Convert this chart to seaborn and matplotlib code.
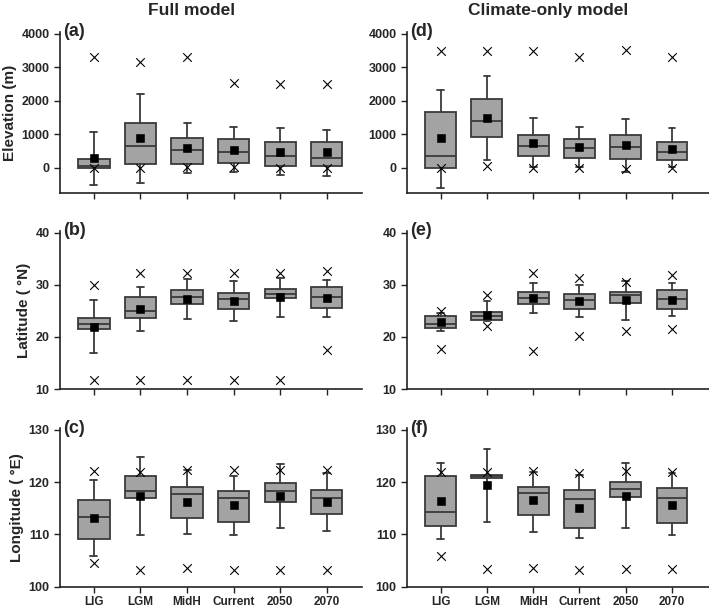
import numpy as np
import matplotlib
matplotlib.use("Agg")
import matplotlib.pyplot as plt
import seaborn as sns

# categories (x axis)
periods = ["LIG", "LGM", "MidH", "Current", "2050", "2070"]

# box statistics: whisker low, q1, median, q3, whisker high, mean, min (x), max (x)
elev_full = {
    "wlo": [-500, -460, -150, -120, -220, -240],
    "q1": [10, 110, 130, 150, 50, 50],
    "med": [50, 650, 530, 460, 350, 310],
    "q3": [260, 1330, 880, 850, 770, 760],
    "whi": [1080, 2200, 1330, 1220, 1180, 1140],
    "mean": [300, 880, 580, 540, 480, 460],
    "min": [0, 0, 30, 30, 0, 0],
    "max": [3320, 3150, 3320, 2540, 2500, 2500],
}
elev_clim = {
    "wlo": [-590, 230, 30, 30, -120, 30],
    "q1": [10, 910, 360, 310, 280, 250],
    "med": [360, 1410, 660, 590, 610, 480],
    "q3": [1670, 2070, 980, 870, 980, 780],
    "whi": [2320, 2740, 1500, 1230, 1460, 1180],
    "mean": [880, 1500, 730, 630, 670, 560],
    "min": [0, 70, 0, 0, -20, 0],
    "max": [3500, 3500, 3500, 3320, 3520, 3320],
}
lat_full = {
    "wlo": [16.9, 21.1, 23.5, 23.0, 23.9, 23.9],
    "q1": [21.5, 23.7, 26.3, 25.4, 27.4, 25.6],
    "med": [22.5, 25.0, 27.6, 27.3, 28.2, 27.6],
    "q3": [23.6, 27.7, 28.9, 28.4, 29.1, 29.5],
    "whi": [27.0, 29.6, 31.1, 30.8, 31.2, 31.0],
    "mean": [21.9, 25.3, 27.3, 26.9, 27.7, 27.4],
    "min": [11.7, 11.7, 11.7, 11.7, 11.8, 17.6],
    "max": [30.0, 32.2, 32.2, 32.2, 32.2, 32.6],
}
lat_clim = {
    "wlo": [21.1, 23.0, 24.6, 23.9, 23.3, 24.0],
    "q1": [21.8, 23.2, 26.3, 25.3, 26.5, 25.3],
    "med": [22.5, 24.0, 27.4, 27.0, 28.0, 27.2],
    "q3": [24.1, 24.7, 28.6, 28.3, 28.6, 28.9],
    "whi": [24.5, 26.8, 30.3, 30.0, 30.7, 30.3],
    "mean": [22.9, 24.3, 27.4, 26.9, 27.0, 27.1],
    "min": [17.7, 22.1, 17.3, 20.1, 21.1, 21.6],
    "max": [25.0, 28.0, 32.2, 31.2, 30.6, 31.8],
}
lon_full = {
    "wlo": [105.9, 109.8, 110.1, 109.8, 111.2, 110.7],
    "q1": [109.1, 116.9, 113.2, 112.4, 116.2, 113.9],
    "med": [113.3, 118.3, 117.7, 117.0, 118.3, 117.0],
    "q3": [116.6, 121.1, 119.0, 118.3, 119.9, 118.5],
    "whi": [120.4, 124.8, 122.4, 121.1, 123.4, 121.7],
    "mean": [113.1, 117.4, 116.2, 115.6, 117.3, 116.1],
    "min": [104.6, 103.2, 103.5, 103.2, 103.2, 103.2],
    "max": [122.2, 121.9, 122.3, 122.3, 122.3, 122.3],
}
lon_clim = {
    "wlo": [109.2, 112.4, 110.4, 109.3, 111.2, 109.8],
    "q1": [111.6, 120.8, 113.7, 111.3, 117.2, 112.1],
    "med": [114.3, 121.1, 118.0, 116.8, 118.6, 117.0],
    "q3": [121.1, 121.4, 119.1, 118.4, 120.1, 118.9],
    "whi": [123.7, 126.3, 122.0, 121.3, 123.7, 121.8],
    "mean": [116.4, 119.4, 116.5, 115.0, 117.4, 115.7],
    "min": [105.9, 103.4, 103.6, 103.2, 103.3, 103.3],
    "max": [122.0, 122.0, 122.2, 121.7, 122.2, 122.0],
}

col_titles = ["Full model", "Climate-only model"]
row_labels = ["Elevation (m)", "Latitude ( \u00b0N)", "Longitude ( \u00b0E)"]
panel_tags = [["(a)", "(d)"], ["(b)", "(e)"], ["(c)", "(f)"]]
panels = [[elev_full, elev_clim], [lat_full, lat_clim], [lon_full, lon_clim]]
ylims = [(-750, 4060), (10, 40.3), (100, 130.3)]
yticks = [[0, 1000, 2000, 3000, 4000], [10, 20, 30, 40], [100, 110, 120, 130]]

sns.set_style("ticks")
plt.rcParams["font.family"] = ["Liberation Sans", "DejaVu Sans"]
plt.rcParams["font.weight"] = "bold"

fig = plt.figure(figsize=(7.09, 6.11), dpi=100)
lefts = [0.0846, 0.574]
bottoms = [0.684, 0.363, 0.040]
heights = [0.264, 0.259, 0.259]
title_x = [0.437, 0.467]

pos = np.arange(len(periods))
for r in range(3):
    for c in range(2):
        d = panels[r][c]
        ax = fig.add_axes([lefts[c], bottoms[r], 0.426, heights[r]])
        stats = [
            {"whislo": d["wlo"][i], "q1": d["q1"][i], "med": d["med"][i],
             "q3": d["q3"][i], "whishi": d["whi"][i], "fliers": []}
            for i in range(len(periods))
        ]
        ax.bxp(stats, positions=pos, widths=0.67, patch_artist=True,
               showfliers=False, capwidths=0.15,
               boxprops=dict(facecolor="#a3a3a3", edgecolor="#3a3a3a", linewidth=1.3),
               medianprops=dict(color="#3a3a3a", linewidth=1.3),
               whiskerprops=dict(color="#3a3a3a", linewidth=1.3),
               capprops=dict(color="#3a3a3a", linewidth=1.3))
        sns.scatterplot(x=pos, y=d["mean"], marker="s", color="black",
                        s=28, edgecolor="black", ax=ax, zorder=4)
        sns.scatterplot(x=np.concatenate([pos, pos]),
                        y=d["min"] + d["max"], marker="x", color="black",
                        s=38, linewidth=0.8, ax=ax, zorder=4)
        ax.set_xlim(-0.73, 5.76 if c == 0 else 5.8)
        ax.set_ylim(*ylims[r])
        ax.set_yticks(yticks[r])
        ax.set_xticks(pos)
        if r == 2:
            ax.set_xticklabels(periods, fontsize=8.5, fontweight="bold")
        else:
            ax.set_xticklabels([])
        ax.tick_params(axis="both", length=4, width=1, labelsize=9, color="#222222")
        ax.tick_params(axis="x", labelsize=8.5, pad=3)
        for lab in ax.get_yticklabels():
            lab.set_fontweight("bold")
        sns.despine(ax=ax)
        for s in ["left", "bottom"]:
            ax.spines[s].set_linewidth(1.2)
            ax.spines[s].set_color("#222222")
        if c == 0:
            ax.set_ylabel(row_labels[r], fontsize=11, fontweight="bold", labelpad=3)
        ax.text(0.01, 1.0, panel_tags[r][c], transform=ax.transAxes,
                fontsize=13, fontweight="bold", va="center", ha="left")
        if r == 0:
            ax.set_title(col_titles[c], fontsize=12.5, fontweight="bold",
                         pad=12, x=title_x[c])

fig.savefig("out.png", dpi=100)
